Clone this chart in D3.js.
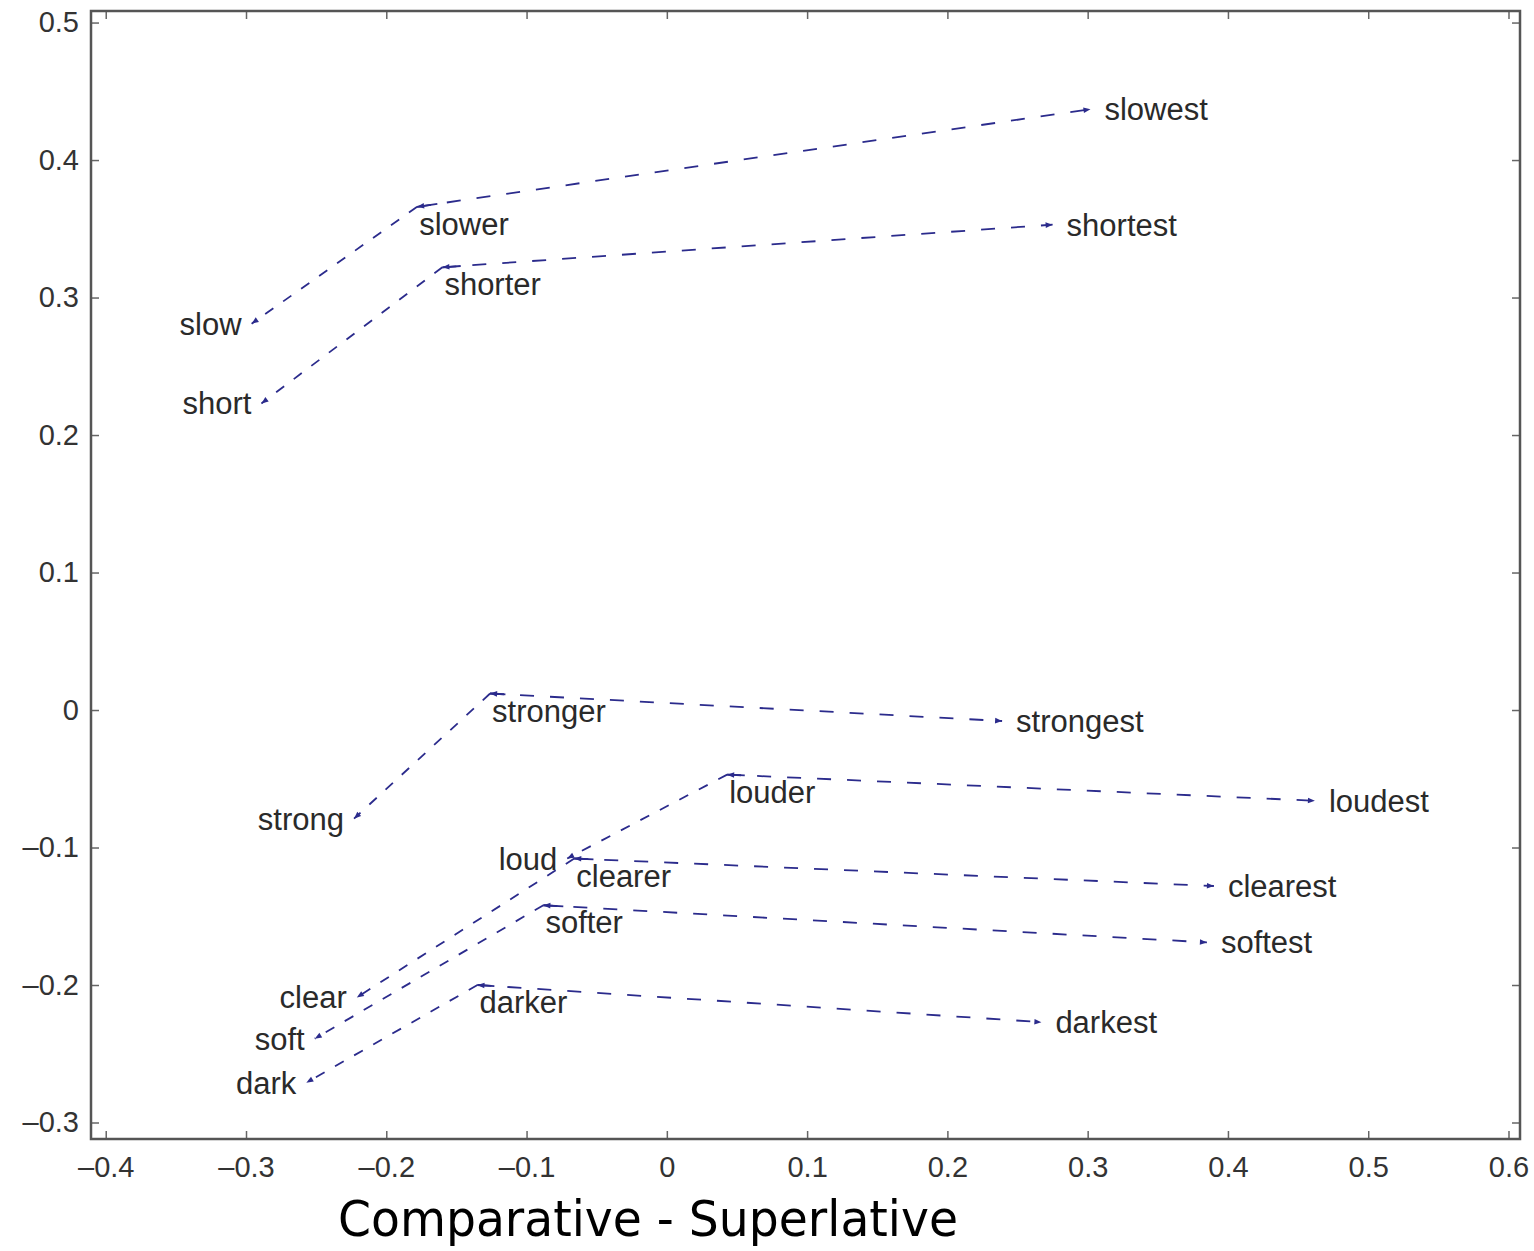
<!DOCTYPE html>
<html>
<head>
<meta charset="utf-8">
<script src="https://d3js.org/d3.v7.min.js"></script>
<style>
    body { margin: 0; background: #fff; }
    svg text { font-family: "Liberation Sans", Arial, Helvetica, sans-serif; }
    .word { font-size: 31px; fill: #2a2a2a; }
    .xtitle { font-family: "DejaVu Sans Condensed", "DejaVu Sans", sans-serif; font-size: 49px; fill: #000; }
</style>
</head>
<body>
<svg id="chart"></svg>
<script>
    // words: base, comparative, superlative
    var base = ["slow", "short", "strong", "loud", "clear", "soft", "dark"];
    var comparative = ["slower", "shorter", "stronger", "louder", "clearer", "softer", "darker"];
    var superlative = ["slowest", "shortest", "strongest", "loudest", "clearest", "softest", "darkest"];

    // projected coordinates
    var baseX = [-0.296, -0.289, -0.223, -0.071, -0.221, -0.251, -0.257];
    var baseY = [0.281, 0.223, -0.079, -0.108, -0.209, -0.239, -0.271];
    var compX = [-0.178, -0.160, -0.126, 0.043, -0.066, -0.088, -0.135];
    var compY = [0.366, 0.322, 0.012, -0.047, -0.108, -0.142, -0.200];
    var supX = [0.302, 0.275, 0.239, 0.462, 0.390, 0.385, 0.267];
    var supY = [0.437, 0.353, -0.008, -0.066, -0.128, -0.169, -0.227];

    var xTicks = [-0.4, -0.3, -0.2, -0.1, 0, 0.1, 0.2, 0.3, 0.4, 0.5, 0.6];
    var yTicks = [-0.3, -0.2, -0.1, 0, 0.1, 0.2, 0.3, 0.4, 0.5];
    var xTitle = "Comparative - Superlative";

    var screen = {width: 1534, height: 1251};
    var box = {left: 91, right: 1520, top: 11, bottom: 1139};
    var lineColor = "#2b2b8c";

    var svg = d3.select("#chart")
        .attr("width", screen.width)
        .attr("height", screen.height);

    var x = d3.scaleLinear().domain([-0.4105, 0.6082]).range([box.left, box.right]);
    var y = d3.scaleLinear().domain([-0.312, 0.5084]).range([box.bottom, box.top]);

    var fmt = function(d) {
        if (d == 0) return "0";
        var s = d3.format(".1f")(Math.abs(d));
        return (d < 0 ? "\u2013" : "") + s;
    };

    // axes, matlab style: inner ticks on all four sides
    var tickLen = 8;
    svg.append("g")
        .attr("transform", "translate(0," + box.bottom + ")")
        .call(d3.axisBottom(x).tickValues(xTicks).tickSizeInner(-tickLen).tickSizeOuter(0).tickPadding(17).tickFormat(fmt))
        .call(function(g) { g.select(".domain").remove(); });
    svg.append("g")
        .attr("transform", "translate(0," + box.top + ")")
        .call(d3.axisTop(x).tickValues(xTicks).tickSizeInner(-tickLen).tickSizeOuter(0).tickFormat(""))
        .call(function(g) { g.select(".domain").remove(); });
    svg.append("g")
        .attr("transform", "translate(" + box.left + ",0)")
        .call(d3.axisLeft(y).tickValues(yTicks).tickSizeInner(-tickLen).tickSizeOuter(0).tickPadding(12).tickFormat(fmt))
        .call(function(g) { g.select(".domain").remove(); });
    svg.append("g")
        .attr("transform", "translate(" + box.right + ",0)")
        .call(d3.axisRight(y).tickValues(yTicks).tickSizeInner(-tickLen).tickSizeOuter(0).tickFormat(""))
        .call(function(g) { g.select(".domain").remove(); });

    svg.selectAll(".tick line").attr("stroke", "#666").attr("stroke-width", 1.5);
    svg.selectAll(".tick text")
        .style("font-family", "'Liberation Sans', Arial, sans-serif")
        .style("font-size", "29px")
        .attr("fill", "#333");

    svg.append("rect")
        .attr("x", box.left)
        .attr("y", box.top)
        .attr("width", box.right - box.left)
        .attr("height", box.bottom - box.top)
        .attr("fill", "none")
        .attr("stroke", "#555")
        .attr("stroke-width", 2.5);

    // arrow heads
    svg.append("defs").append("marker")
        .attr("id", "head")
        .attr("viewBox", "0 0 10 10")
        .attr("refX", 10)
        .attr("refY", 5)
        .attr("markerWidth", 9)
        .attr("markerHeight", 7)
        .attr("markerUnits", "userSpaceOnUse")
        .attr("orient", "auto")
        .append("path")
        .attr("d", "M0,1 L10,5 L0,9 Z")
        .attr("fill", lineColor);

    var rows = base.map(function(w, i) {
        return {
            base: w, comp: comparative[i], sup: superlative[i],
            bx: baseX[i], by: baseY[i], cx: compX[i], cy: compY[i], sx: supX[i], sy: supY[i]
        };
    });

    var g = svg.append("g");

    // comparative -> base
    g.selectAll("line.first")
        .data(rows)
        .enter()
        .append("line")
        .attr("x1", function(d) { return x(d.cx); })
        .attr("y1", function(d) { return y(d.cy); })
        .attr("x2", function(d) { return x(d.bx); })
        .attr("y2", function(d) { return y(d.by); })
        .attr("stroke", lineColor)
        .attr("stroke-width", 1.8)
        .attr("stroke-dasharray", "10,12")
        .attr("marker-end", "url(#head)");

    // comparative -> superlative, with a head at both ends
    g.selectAll("line.second")
        .data(rows)
        .enter()
        .append("line")
        .attr("x1", function(d) { return x(d.cx); })
        .attr("y1", function(d) { return y(d.cy); })
        .attr("x2", function(d) { return x(d.sx); })
        .attr("y2", function(d) { return y(d.sy); })
        .attr("stroke", lineColor)
        .attr("stroke-width", 1.8)
        .attr("stroke-dasharray", "14,16")
        .attr("marker-end", "url(#head)");

    g.selectAll("line.back")
        .data(rows)
        .enter()
        .append("line")
        .attr("x1", function(d) { return x(d.cx) + (x(d.sx) - x(d.cx)) * 0.03; })
        .attr("y1", function(d) { return y(d.cy) + (y(d.sy) - y(d.cy)) * 0.03; })
        .attr("x2", function(d) { return x(d.cx); })
        .attr("y2", function(d) { return y(d.cy); })
        .attr("stroke", lineColor)
        .attr("stroke-width", 1.8)
        .attr("marker-end", "url(#head)");

    // labels
    g.selectAll("text.base")
        .data(rows)
        .enter()
        .append("text")
        .attr("class", "word")
        .attr("x", function(d) { return x(d.bx) - 10; })
        .attr("y", function(d) { return y(d.by) + 11; })
        .attr("text-anchor", "end")
        .text(function(d) { return d.base; });

    g.selectAll("text.comp")
        .data(rows)
        .enter()
        .append("text")
        .attr("class", "word")
        .attr("x", function(d) { return x(d.cx) + 2; })
        .attr("y", function(d) { return y(d.cy) + 28; })
        .text(function(d) { return d.comp; });

    g.selectAll("text.sup")
        .data(rows)
        .enter()
        .append("text")
        .attr("class", "word")
        .attr("x", function(d) { return x(d.sx) + 14; })
        .attr("y", function(d) { return y(d.sy) + 11; })
        .text(function(d) { return d.sup; });

    svg.append("text")
        .attr("class", "xtitle")
        .attr("x", 648)
        .attr("y", 1236)
        .attr("text-anchor", "middle")
        .attr("textLength", 620)
        .attr("lengthAdjust", "spacingAndGlyphs")
        .text(xTitle);
</script>
</body>
</html>
